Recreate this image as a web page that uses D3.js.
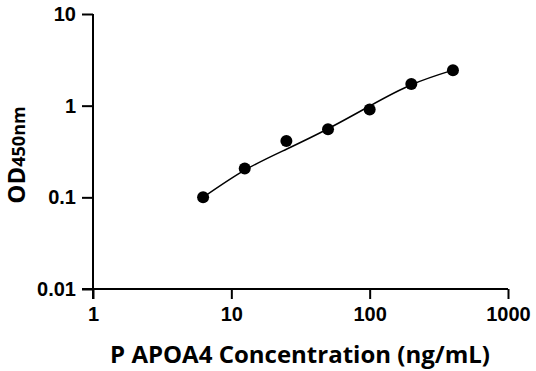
<!DOCTYPE html>
<html><head><meta charset="utf-8">
<script src="https://cdn.jsdelivr.net/npm/d3@7"></script>
<style>body{margin:0;background:#fff}svg{display:block}</style>
</head><body>
<svg id="c" width="536" height="371"></svg>
<script>
const concentrations = [6.25, 12.5, 25, 50, 100, 200, 400];
const odValues = [0.1, 0.206, 0.412, 0.553, 0.909, 1.72, 2.44];
const fitX = [6.25, 12.5, 25, 50, 100, 200, 400];
const fitY = [0.1, 0.198, 0.335, 0.56, 0.99, 1.69, 2.44];
const xTicks = [1, 10, 100, 1000];
const yTicks = [0.01, 0.1, 1, 10];
const xLabel = "P APOA4 Concentration (ng/mL)";

const svg = d3.select("#c");
const font = "'Open Sans', sans-serif";
const tickFont = "'Liberation Sans', Arial, sans-serif";
const x = d3.scaleLog().domain([1, 1000]).range([93, 508]);
const y = d3.scaleLog().domain([0.01, 10]).range([289, 14]);

const gx = svg.append("g").attr("transform", "translate(0,289)")
  .call(d3.axisBottom(x).tickValues(xTicks).tickFormat(d3.format("~g")).tickSize(10).tickPadding(8).tickSizeOuter(0));
const gy = svg.append("g").attr("transform", "translate(93,0)")
  .call(d3.axisLeft(y).tickValues(yTicks).tickFormat(d => String(d)).tickSize(11).tickPadding(6).tickSizeOuter(0));
[gx, gy].forEach(g => {
  g.attr("font-family", null).attr("font-size", null);
  g.select(".domain").attr("stroke", "#000").attr("stroke-width", 2);
  g.selectAll(".tick line").attr("stroke", "#000").attr("stroke-width", 2);
  g.selectAll(".tick text").attr("fill", "#000").style("font-family", tickFont)
    .style("font-weight", "bold").style("font-size", "20px");
});
gx.select(".domain").attr("d", "M82,0H508");
gy.select(".domain").attr("d", "M0,14V299");

const line = d3.line().x((d, i) => x(fitX[i])).y(d => y(d)).curve(d3.curveNatural);
svg.append("path").datum(fitY).attr("d", line).attr("fill", "none")
  .attr("stroke", "#000").attr("stroke-width", 1.5);

svg.selectAll("circle.pt").data(odValues).enter().append("circle")
  .attr("class", "pt").attr("cx", (d, i) => x(concentrations[i])).attr("cy", d => y(d))
  .attr("r", 6).attr("fill", "#000");

svg.append("text").attr("x", 300).attr("y", 363).attr("text-anchor", "middle")
  .style("font-family", font).style("font-weight", "bold").style("font-size", "24px")
  .text(xLabel);

const yt = svg.append("text").attr("transform", "translate(25,155) rotate(-90)")
  .attr("text-anchor", "middle").style("font-family", font).style("font-weight", "bold");
yt.append("tspan").style("font-size", "24px").text("OD");
yt.append("tspan").style("font-size", "18px").text("450nm");
</script>
</body></html>
